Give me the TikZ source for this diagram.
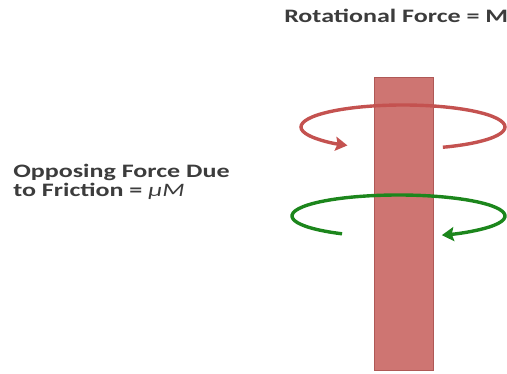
\documentclass[tikz,border=0pt]{standalone}
\usepackage{fontspec}
\setmainfont{Carlito}
\usepackage{xcolor}
\definecolor{shaftfill}{RGB}{206,117,114}
\definecolor{shaftline}{RGB}{175,88,86}
\definecolor{red3}{RGB}{196,82,80}
\definecolor{green3}{RGB}{28,134,28}
\definecolor{gray3}{RGB}{60,60,60}
\usepackage{tikz}
\usetikzlibrary{arrows.meta}

\begin{document}
\begin{tikzpicture}[x=1pt, y=1pt,
    >={Stealth[length=12pt, width=14pt, inset=2pt]},
    label/.style={font=\fontsize{19}{19.5}\selectfont\bfseries, text=gray3,
        inner sep=0pt, xscale=1.37},
    shaft/.style={draw=shaftline, fill=shaftfill, line width=0.8pt,
        minimum width=59pt, minimum height=293pt, inner sep=0pt},
    turn/.style={line width=3.4pt, ->}]

% Frame
\useasboundingbox (0,0) rectangle (507,373);

% Labels
\node[label, anchor=base west] (rotlabel) at (284,350) {Rotational Force = M};
% base anchor sits on the last line here
\node[label, anchor=base west, align=left] (frictionlabel) at (13,176)
    {Opposing Force Due\\to Friction = {\mdseries\itshape μM}};

% Shaft
\node[shaft] (shaft) at (404,149.5) {};

% Centres of the two turning arrows
\coordinate (redc) at (403,246);
\coordinate (greenc) at (398.5,157);

% Rotation: counterclockwise seen from above
\draw[turn, red3] (redc) ++(-67:102pt and 22pt)
    arc[start angle=-67, end angle=237, x radius=102pt, y radius=22pt];

% Friction: the other way round
\draw[turn, green3] (greenc) ++(238:106.5pt and 21pt)
    arc[start angle=238, end angle=-66, x radius=106.5pt, y radius=21pt];

\end{tikzpicture}
\end{document}
